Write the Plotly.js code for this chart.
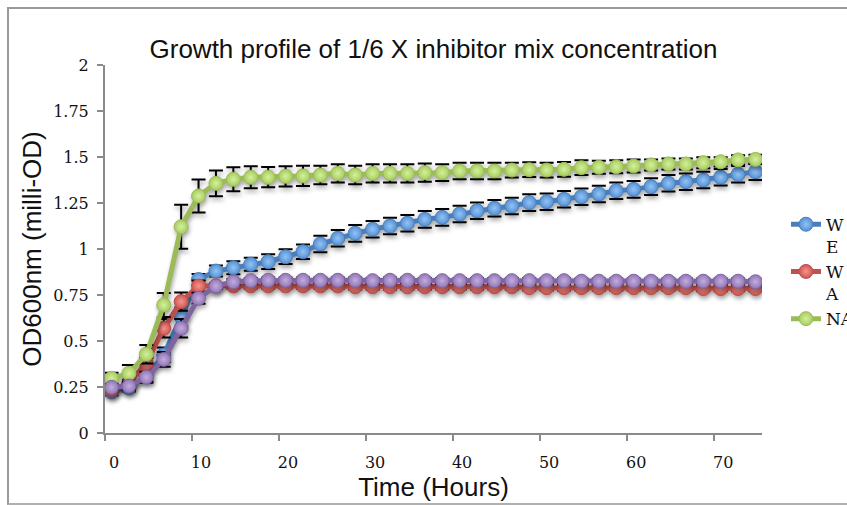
<!DOCTYPE html>
<html>
<head>
<meta charset="utf-8">
<script src="https://cdn.plot.ly/plotly-3.0.1.min.js"></script>
<style>
  html, body { margin: 0; padding: 0; background: #fff; overflow: hidden; }
  #wrap { position: relative; width: 847px; height: 505px; overflow: hidden; }
  #chart { position: absolute; left: 0; top: 0; width: 847px; height: 505px; }
  #frame { position: absolute; left: 7px; top: 7px; width: 900px; height: 494px;
           border-left: 2px solid #9a9a9a; border-top: 2px solid #9a9a9a; border-bottom: 2px solid #b0b0b0;
           pointer-events: none; }
  .scatterlayer .trace { filter: drop-shadow(1px 3px 2px rgba(0,0,0,0.35)); }
</style>
</head>
<body>
<div id="wrap"><div id="chart"></div><div id="frame"></div></div>
<script>
// Time points (hours)
const hours = [0.75,2.75,4.75,6.75,8.75,10.75,12.75,14.75,16.75,18.75,20.75,22.75,24.75,26.75,28.75,30.75,32.75,34.75,36.75,38.75,40.75,42.75,44.75,46.75,48.75,50.75,52.75,54.75,56.75,58.75,60.75,62.75,64.75,66.75,68.75,70.75,72.75,74.75];

const seriesNames = ["W<br>E", "W<br>A", "NA", ""];

const blueVals = [0.224,0.245,0.31,0.424,0.632,0.834,0.88,0.898,0.917,0.931,0.958,0.985,1.027,1.058,1.085,1.107,1.125,1.14,1.161,1.172,1.19,1.208,1.221,1.234,1.252,1.257,1.27,1.284,1.299,1.317,1.324,1.339,1.357,1.366,1.375,1.39,1.406,1.42];
const blueErr  = [0.02,0.02,0.03,0.04,0.05,0.03,0.03,0.035,0.035,0.04,0.04,0.04,0.045,0.045,0.045,0.045,0.045,0.045,0.045,0.045,0.045,0.045,0.045,0.045,0.045,0.045,0.045,0.045,0.045,0.045,0.045,0.045,0.045,0.045,0.045,0.045,0.045,0.045];

const redVals  = [0.235,0.27,0.379,0.569,0.714,0.799,0.80,0.80,0.80,0.80,0.80,0.80,0.80,0.80,0.795,0.795,0.795,0.795,0.795,0.795,0.795,0.795,0.795,0.795,0.79,0.79,0.79,0.79,0.79,0.79,0.79,0.79,0.79,0.79,0.785,0.785,0.785,0.785];
const redErr   = [0.01,0.02,0.03,0.05,0.05,0.03,0.015,0.015,0.015,0.015,0.015,0.015,0.015,0.015,0.015,0.015,0.015,0.015,0.015,0.015,0.015,0.015,0.015,0.015,0.015,0.015,0.015,0.015,0.015,0.015,0.015,0.015,0.015,0.015,0.015,0.015,0.015,0.015];

const greenVals = [0.297,0.324,0.428,0.696,1.121,1.288,1.357,1.379,1.39,1.39,1.395,1.397,1.402,1.411,1.402,1.411,1.411,1.411,1.415,1.415,1.424,1.424,1.424,1.429,1.431,1.429,1.433,1.442,1.444,1.447,1.451,1.457,1.462,1.462,1.469,1.474,1.484,1.487];
const greenErr  = [0.03,0.045,0.05,0.065,0.12,0.09,0.07,0.065,0.06,0.055,0.055,0.055,0.05,0.05,0.05,0.05,0.05,0.05,0.05,0.045,0.045,0.045,0.045,0.04,0.04,0.04,0.04,0.04,0.035,0.035,0.035,0.03,0.03,0.03,0.03,0.025,0.025,0.025];

const purpleVals = [0.248,0.255,0.303,0.40,0.569,0.732,0.799,0.822,0.828,0.83,0.83,0.83,0.83,0.83,0.83,0.828,0.83,0.83,0.828,0.828,0.828,0.828,0.828,0.828,0.828,0.828,0.828,0.825,0.825,0.825,0.825,0.825,0.825,0.825,0.825,0.825,0.825,0.822];
const purpleErr  = [0.01,0.02,0.03,0.04,0.05,0.03,0.015,0.015,0.015,0.015,0.015,0.015,0.015,0.015,0.015,0.015,0.015,0.015,0.015,0.015,0.015,0.015,0.015,0.015,0.015,0.015,0.015,0.015,0.015,0.015,0.015,0.015,0.015,0.015,0.015,0.015,0.015,0.015];

const xTicks = [0,10,20,30,40,50,60,70];
const yTicks = [0,0.25,0.5,0.75,1,1.25,1.5,1.75,2];
const yTickText = ["0","0.25","0.5","0.75","1","1.25","1.5","1.75","2"];

function mk(name, y, err, lineColor, markColor, centerColor, showLeg) {
  return {
    x: hours, y: y, name: name, type: 'scatter', mode: 'lines+markers',
    showlegend: showLeg,
    line: {color: lineColor, width: 5},
    marker: {size: 14, color: markColor, line: {color: lineColor, width: 1},
             gradient: {type: 'radial', color: centerColor}},
    error_y: {type: 'data', array: err, visible: true, color: '#000', thickness: 2, width: 7}
  };
}

const data = [
  mk(seriesNames[0], blueVals, blueErr, '#4a7ebb', '#5590d4', '#93c3f3', true),
  mk(seriesNames[1], redVals, redErr, '#c0504d', '#d0544f', '#f39591', true),
  mk(seriesNames[2], greenVals, greenErr, '#9bbb59', '#a6cc5d', '#d4f09e', true),
  mk(seriesNames[3], purpleVals, purpleErr, '#8064a2', '#9176b5', '#c3addf', false)
];

const titleFont = {family: 'Liberation Sans, Arial, sans-serif', size: 26, color: '#111'};

const layout = {
  width: 847, height: 505,
  margin: {l: 105, r: 85, t: 65, b: 72, autoexpand: false},
  paper_bgcolor: '#fff', plot_bgcolor: '#fff',
  title: {text: 'Growth profile of 1/6 X inhibitor mix concentration',
          font: titleFont,
          x: 0.5, xref: 'paper', y: 0.903, yref: 'container', yanchor: 'middle'},
  xaxis: {
    range: [0, 75.5], tickmode: 'array', tickvals: xTicks, ticktext: xTicks.map(String),
    showgrid: false, zeroline: false, showline: true, linecolor: '#8a8a8a', linewidth: 2,
    ticks: 'outside', ticklen: 6, tickwidth: 2, tickcolor: '#8a8a8a',
    ticklabelshift: 9, ticklabelstandoff: 8,
    tickfont: {family: 'DejaVu Serif, serif', size: 16, color: '#111'},
    title: {text: 'Time (Hours)', font: titleFont, standoff: 2}
  },
  yaxis: {
    range: [0, 2], tickmode: 'array', tickvals: yTicks, ticktext: yTickText,
    showgrid: false, zeroline: false, showline: true, linecolor: '#8a8a8a', linewidth: 2,
    ticks: 'outside', ticklen: 6, tickwidth: 2, tickcolor: '#8a8a8a',
    ticklabelstandoff: 5,
    tickfont: {family: 'DejaVu Serif, serif', size: 16, color: '#111'},
    title: {text: 'OD600nm (milli-OD)', font: titleFont, standoff: 4}
  },
  legend: {x: 1.0365, xanchor: 'left', y: 0.615, yanchor: 'top', valign: 'top',
           font: {family: 'DejaVu Serif, serif', size: 17, color: '#111'},
           bgcolor: 'rgba(0,0,0,0)', borderwidth: 0, tracegroupgap: 0},
  showlegend: true
};

Plotly.newPlot('chart', data, layout, {displayModeBar: false, staticPlot: true});
</script>
</body>
</html>
